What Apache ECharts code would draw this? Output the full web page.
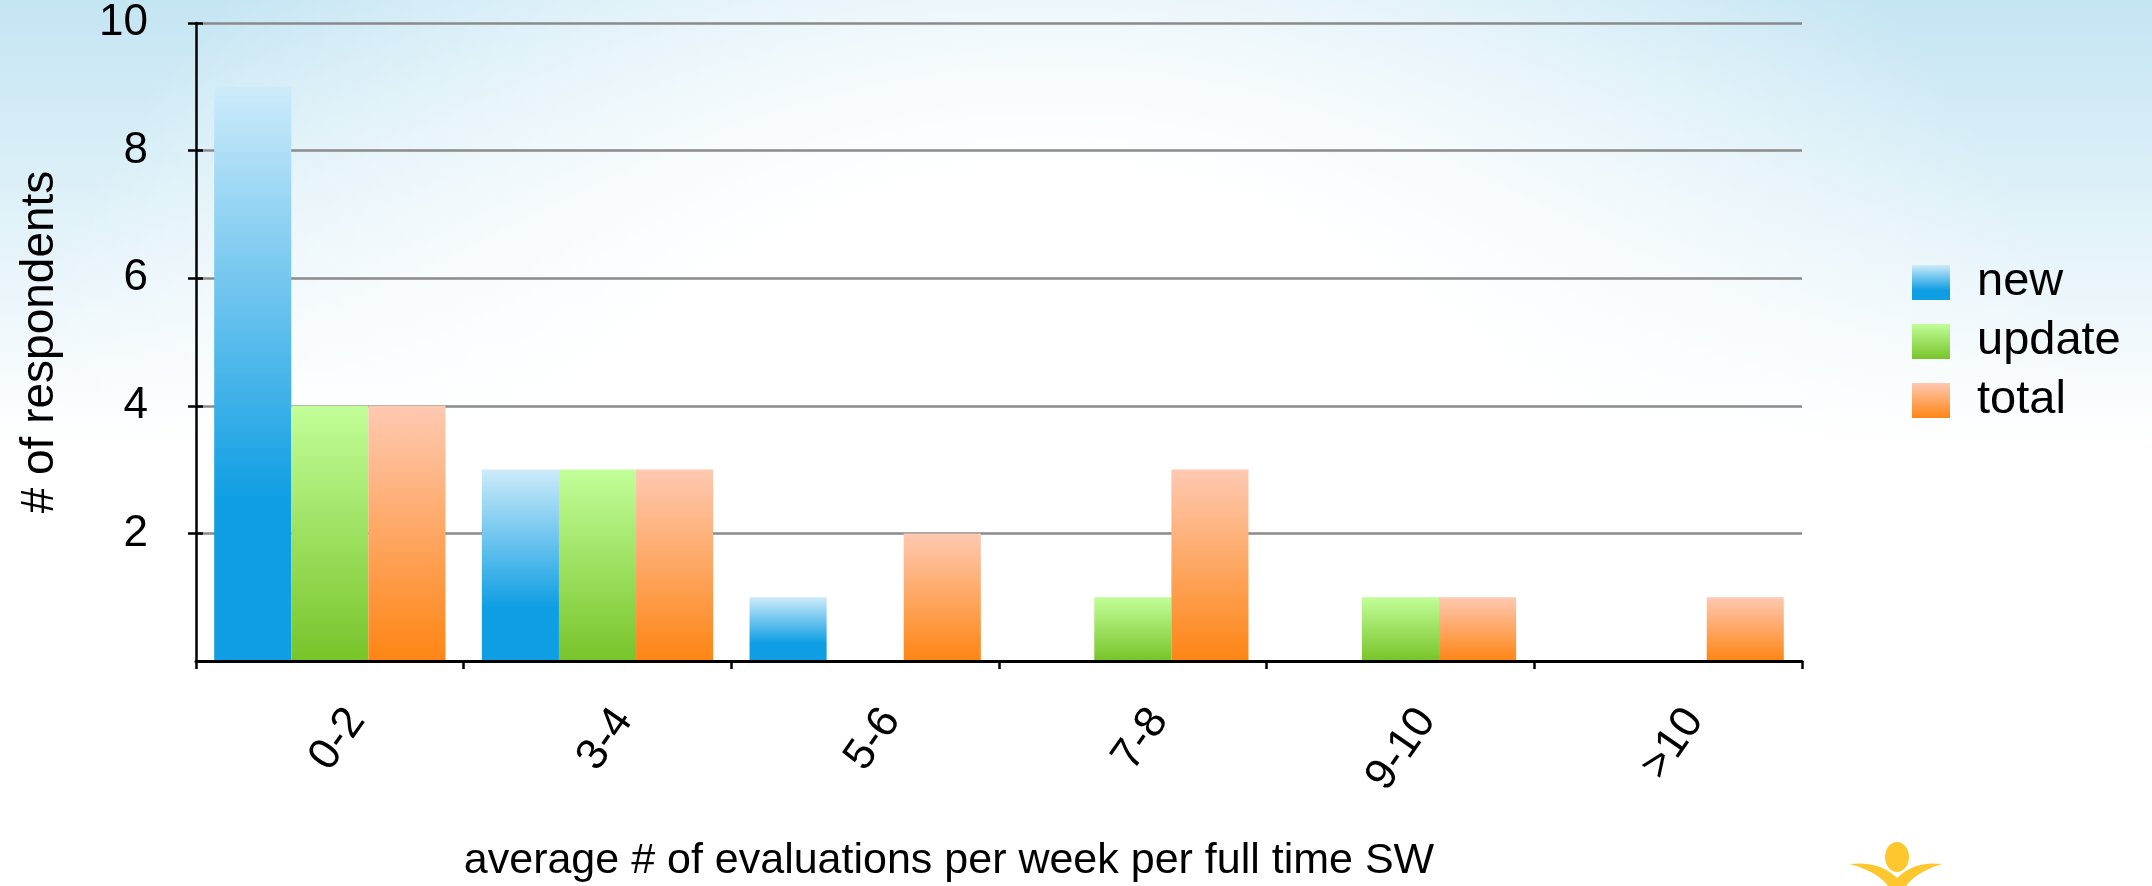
<!DOCTYPE html>
<html>
<head>
<meta charset="utf-8">
<script src="https://cdn.jsdelivr.net/npm/echarts@6/dist/echarts.min.js"></script>
<style>
html,body{margin:0;padding:0;background:#fff;}
#c{width:2152px;height:886px;}
</style>
</head>
<body>
<div id="c"></div>
<script>
var categories = ['0-2', '3-4', '5-6', '7-8', '9-10', '>10'];
var seriesNames = ['new', 'update', 'total'];
var newValues = [9, 3, 1, 0, 0, 0];
var updateValues = [4, 3, 0, 1, 1, 0];
var totalValues = [4, 3, 2, 3, 1, 1];
var yTicks = { min: 0, max: 10, interval: 2 };
var xTitle = 'average # of evaluations per week per full time SW';
var yTitle = '# of respondents';

var FONT = '"Liberation Sans", Arial, Helvetica, sans-serif';
var G = echarts.graphic;
function grad(stops) {
  return new G.LinearGradient(0, 0, 0, 1, stops.map(function (s) { return { offset: s[0], color: s[1] }; }));
}
var blue = grad([[0, '#cdebfa'], [0.72, '#0f9ee3'], [1, '#0f9ee3']]);
var green = grad([[0, '#c2fe99'], [1, '#78c42a']]);
var orange = grad([[0, '#fec9b2'], [1, '#fe8514']]);

// decorative logo outline (quadratic curves sampled into a polygon)
function quad(p0, p1, p2, n) {
  var pts = [];
  for (var i = 0; i <= n; i++) {
    var t = i / n, u = 1 - t;
    pts.push([u * u * p0[0] + 2 * u * t * p1[0] + t * t * p2[0], u * u * p0[1] + 2 * u * t * p1[1] + t * t * p2[1]]);
  }
  return pts;
}
var logoPts = [].concat(
  quad([1850, 864], [1880, 861], [1897, 878], 12),
  quad([1897, 878], [1914, 861], [1942, 864], 12),
  quad([1942, 864], [1916, 872], [1906, 886], 12),
  quad([1888, 886], [1878, 872], [1850, 864], 12)
);

var chart = echarts.init(document.getElementById('c'), null, { renderer: 'canvas' });

function barSeries(name, data, color) {
  return {
    name: name,
    type: 'bar',
    data: data,
    barWidth: '28.8%',
    barGap: '0%',
    itemStyle: { color: color },
    emphasis: { disabled: true },
    z: 2
  };
}

var option = {
  animation: false,
  backgroundColor: '#ffffff',
  textStyle: { fontFamily: FONT },
  graphic: [
    {
      type: 'rect', silent: true, z: -20,
      shape: { x: 0, y: 0, width: 2152, height: 886 },
      style: { fill: new G.LinearGradient(0, 0, 0, 1, [
        { offset: 0, color: '#c4e5f3' }, { offset: 0.5, color: '#ffffff' }, { offset: 1, color: '#ffffff' }]) }
    },
    {
      type: 'rect', silent: true, z: -19,
      shape: { x: 0, y: 0, width: 2152, height: 886 },
      style: { fill: new G.RadialGradient(1050, 720, 1100, [
        { offset: 0, color: 'rgba(255,255,255,1)' },
        { offset: 0.5, color: 'rgba(255,255,255,1)' },
        { offset: 1, color: 'rgba(255,255,255,0)' }], true) }
    },
    {
      type: 'ellipse', silent: true, z: 10,
      shape: { cx: 1897, cy: 857, rx: 12, ry: 15 },
      style: { fill: '#fec72e' }
    },
    {
      type: 'polygon', silent: true, z: 10,
      shape: { points: logoPts },
      style: { fill: '#fec72e' }
    }
  ],
  grid: { left: 196, right: 350, top: 23, bottom: 225, containLabel: false, outerBoundsMode: 'none' },
  legend: {
    data: seriesNames,
    orient: 'vertical',
    left: 1912,
    top: 259,
    padding: 0,
    icon: 'rect',
    itemWidth: 38,
    itemHeight: 35,
    itemGap: 12,
    selectedMode: false,
    textStyle: { fontSize: 47, color: '#000', fontFamily: FONT, padding: [0, 0, 0, 22] }
  },
  xAxis: {
    type: 'category',
    data: categories,
    z: 5,
    boundaryGap: true,
    axisLine: { show: true, lineStyle: { color: '#000', width: 3 } },
    axisTick: { show: true, length: 8, lineStyle: { color: '#000', width: 2.5 } },
    axisLabel: {
      rotate: 55, interval: 0, fontSize: 44, color: '#000', fontFamily: FONT,
      align: 'right', verticalAlign: 'top', lineHeight: 44, padding: [10, 0, 0, 0], margin: 34
    },
    splitLine: { show: false },
    name: xTitle,
    nameLocation: 'middle',
    nameGap: 179,
    nameTextStyle: { fontSize: 43, color: '#000', fontFamily: FONT, lineHeight: 43, padding: [0, 100, 0, 0] }
  },
  yAxis: [
    {
      type: 'value',
      min: yTicks.min, max: yTicks.max, interval: yTicks.interval,
      position: 'left',
      axisLine: { show: true, lineStyle: { color: '#000', width: 2.5 } },
      axisTick: { show: true, length: 8, lineStyle: { color: '#000', width: 2.5 } },
      axisLabel: { showMinLabel: false, fontSize: 44, color: '#000', fontFamily: FONT, margin: 48 },
      splitLine: { show: true, lineStyle: { color: '#8a8a8a', width: 2.5 } },
      name: yTitle,
      nameLocation: 'middle',
      nameGap: 133,
      nameTextStyle: { fontSize: 46, color: '#000', fontFamily: FONT, lineHeight: 46 }
    },
    {
      type: 'value',
      min: yTicks.min, max: yTicks.max, interval: yTicks.interval,
      position: 'left',
      offset: 0,
      z: 4,
      axisLine: { show: false },
      axisTick: { show: true, inside: true, length: 7, lineStyle: { color: '#000', width: 2.5 } },
      axisLabel: { show: false },
      splitLine: { show: false }
    }
  ],
  series: [
    barSeries(seriesNames[0], newValues, blue),
    barSeries(seriesNames[1], updateValues, green),
    barSeries(seriesNames[2], totalValues, orange)
  ]
};
chart.setOption(option);
</script>
</body>
</html>
